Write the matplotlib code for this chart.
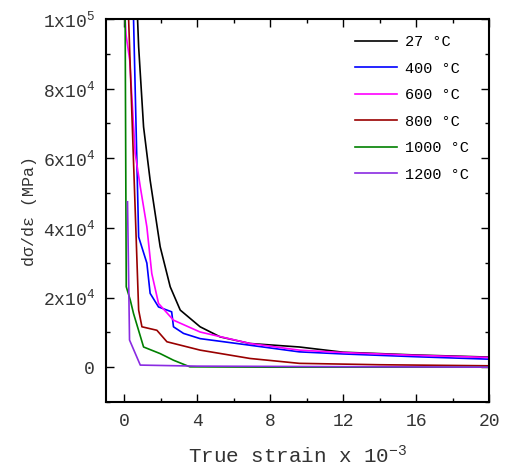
import matplotlib
matplotlib.use("Agg")
import matplotlib.pyplot as plt
from matplotlib.ticker import MultipleLocator, FixedLocator

plt.rcParams['font.family'] = ['Liberation Mono', 'DejaVu Sans']
plt.rcParams['mathtext.fontset'] = 'custom'
plt.rcParams['mathtext.rm'] = 'Liberation Mono'
plt.rcParams['mathtext.default'] = 'regular'

# curve data (strain x 1e-3, dsigma/deps in MPa)
labels = ['27 °C', '400 °C', '600 °C', '800 °C', '1000 °C', '1200 °C']
colors = ['black', 'blue', 'magenta', '#990000', 'green', '#8a2be2']

x_27 = [0.73, 0.79, 1.06, 1.42, 1.97, 2.52, 3.07, 4.16, 5.26, 6.9, 9.6, 12, 16, 20]
y_27 = [100000, 92000, 69000, 53700, 34600, 23100, 16400, 11600, 8700, 6800, 5800, 4300, 3500, 2900]

x_400 = [0.51, 0.79, 1.24, 1.42, 1.88, 2.6, 2.7, 3.25, 4.16, 6.9, 9.6, 12, 16, 20]
y_400 = [100000, 37400, 29900, 21200, 17300, 15900, 11600, 9700, 8200, 6300, 4400, 3800, 3000, 2300]

x_600 = [0.05, 0.1, 0.3, 0.6, 0.88, 1.24, 1.51, 1.88, 2.7, 4.16, 6.9, 9.6, 12, 16, 20]
y_600 = [100000, 95400, 88200, 61400, 51800, 40300, 26900, 18300, 13500, 10100, 6800, 4900, 4200, 3400, 2800]

x_800 = [0.24, 0.79, 0.97, 1.79, 2.34, 4.16, 6.9, 9.6, 14, 20]
y_800 = [100000, 16400, 11600, 10600, 7300, 4900, 2500, 1100, 700, 400]

x_1000 = [0.05, 0.11, 0.33, 0.51, 1.06, 1.97, 2.7, 3.6, 8, 20]
y_1000 = [100000, 23100, 19300, 15400, 5800, 3900, 2000, 100, 0, 0]

x_1200 = [0.18, 0.29, 0.88, 4.0, 20]
y_1200 = [47500, 7800, 600, 300, 0]

xs = [x_27, x_400, x_600, x_800, x_1000, x_1200]
ys = [y_27, y_400, y_600, y_800, y_1000, y_1200]

fig = plt.figure(figsize=(5.08, 4.68), dpi=100)
ax = fig.add_axes([106 / 508, 66 / 468, 383 / 508, 383 / 468])

for x, y, c, lab in zip(xs, ys, colors, labels):
    ax.plot(x, y, color=c, lw=1.2, label=lab)

ax.set_xlim(-1, 20)
ax.set_ylim(-10000, 100000)
ax.xaxis.set_major_locator(MultipleLocator(4))
ax.xaxis.set_minor_locator(MultipleLocator(2))
ax.yaxis.set_major_locator(FixedLocator([0, 20000, 40000, 60000, 80000, 100000]))
ax.yaxis.set_minor_locator(MultipleLocator(10000))
ax.set_yticklabels(['0', r'2x10$^{4}$', r'4x10$^{4}$', r'6x10$^{4}$',
                    r'8x10$^{4}$', r'1x10$^{5}$'])

ax.tick_params(which='both', direction='in', top=True, right=True,
               labelsize=13, colors='black', labelcolor='#333333')
ax.tick_params(which='major', length=6, width=1.0, pad=8)
ax.tick_params(which='minor', length=3, width=1.0)
for s in ax.spines.values():
    s.set_linewidth(1.5)

ax.set_xlabel(r'True strain x 10$^{-3}$', fontsize=15, color='#333333', labelpad=10)
ax.set_ylabel('dσ/dε (MPa)', fontsize=12, color='#333333', labelpad=4)

ax.legend(loc='upper left', bbox_to_anchor=(349 / 508, 1 - 29 / 468),
          bbox_transform=fig.transFigure, frameon=False, fontsize=11,
          handlelength=2.75, handletextpad=0.5, labelspacing=0.82,
          borderaxespad=0)

fig.savefig('out.png', dpi=100)
